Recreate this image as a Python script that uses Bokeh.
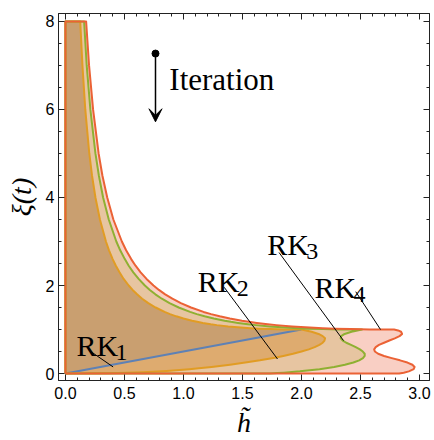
from bokeh.plotting import figure
from bokeh.models import (Range1d, LinearAxis, FixedTicker, Arrow, VeeHead,
                          CustomJSTickFormatter, NumeralTickFormatter, Label)
from bokeh.embed import file_html
from bokeh.resources import INLINE

# ---------------- data ----------------
# region corner on the xi axis (left edge / clipped top)
corner_h = [0, 0]
corner_xi = [0, 8]

# upper branches (xi >= 1) of the stability boundaries
xi_upper = [8, 7, 6, 5, 4.5, 4, 3.5, 3, 2.8, 2.6, 2.45, 2.3, 2.15, 2.0, 1.9, 1.8,
            1.7, 1.6, 1.5, 1.4, 1.35, 1.3, 1.25, 1.2, 1.175, 1.15, 1.12, 1.1, 1.07,
            1.05, 1.03, 1.02, 1.01, 1.003, 1.001, 1.0]
rk2_upper_h = [0.125, 0.144, 0.168, 0.202, 0.225, 0.254, 0.292, 0.343, 0.369, 0.400,
               0.427, 0.458, 0.493, 0.536, 0.569, 0.607, 0.650, 0.702, 0.764, 0.840,
               0.886, 0.939, 1.000, 1.073, 1.116, 1.164, 1.231, 1.283, 1.379, 1.460,
               1.566, 1.638, 1.736, 1.851, 1.913, 2.0]
rk3_upper_h = [0.158, 0.180, 0.211, 0.254, 0.283, 0.319, 0.367, 0.431, 0.464, 0.503,
               0.536, 0.575, 0.620, 0.673, 0.715, 0.762, 0.817, 0.882, 0.960, 1.056,
               1.113, 1.179, 1.257, 1.349, 1.402, 1.463, 1.547, 1.613, 1.732, 1.834,
               1.968, 2.058, 2.182, 2.326, 2.403, 2.513]
rk4_upper_h = [0.175, 0.200, 0.234, 0.281, 0.313, 0.354, 0.406, 0.478, 0.514, 0.557,
               0.594, 0.637, 0.687, 0.746, 0.792, 0.845, 0.906, 0.978, 1.064, 1.170,
               1.234, 1.307, 1.393, 1.495, 1.554, 1.621, 1.714, 1.787, 1.920, 2.032,
               2.181, 2.281, 2.418, 2.578, 2.663, 2.785]

# lower lobes (xi < 1)
rk2_lobe_xi = [0.98, 0.95, 0.9, 0.85, 0.8, 0.75, 0.7, 0.65, 0.6, 0.55, 0.5, 0.45, 0.4,
               0.36, 0.3, 0.26, 0.2, 0.15, 0.12, 0.1, 0.06, 0.03, 0.01, 0.005, 0]
rk2_lobe_h = [2.038, 2.086, 2.145, 2.18, 2.20, 2.195, 2.18, 2.152, 2.112, 2.062, 2.0,
              1.928, 1.846, 1.773, 1.648, 1.552, 1.394, 1.238, 1.13, 1.05, 0.858, 0.66,
              0.444, 0.348, 0]
rk3_lobe_xi = [0.98, 0.95, 0.9, 0.85, 0.8, 0.75, 0.7, 0.65, 0.6, 0.55, 0.5, 0.45, 0.4,
               0.35, 0.3, 0.25, 0.2, 0.15, 0.1, 0.05, 0.02, 0.01, 0]
rk3_lobe_h = [2.474, 2.424, 2.366, 2.337, 2.332, 2.35, 2.38, 2.42, 2.46, 2.495, 2.52,
              2.536, 2.536, 2.521, 2.489, 2.44, 2.368, 2.277, 2.153, 1.987, 1.852, 1.796,
              1.732]
rk4_lobe_xi = [0.98, 0.95, 0.9, 0.85, 0.8, 0.75, 0.7, 0.65, 0.6, 0.55, 0.5, 0.45, 0.4,
               0.35, 0.3, 0.25, 0.2, 0.15, 0.1, 0.05, 0.02, 0]
rk4_lobe_h = [2.819, 2.844, 2.853, 2.831, 2.791, 2.745, 2.70, 2.657, 2.629, 2.616, 2.622,
              2.65, 2.70, 2.765, 2.835, 2.898, 2.94, 2.959, 2.951, 2.91, 2.867, 2.828]

# RK1: straight lower boundary (blue line)
rk1_line_h = [0, 2.0]
rk1_line_xi = [0, 1.0]

labels = ["1", "2", "3", "4"]
label_h = [0.093, 1.12, 1.71, 2.11]
label_xi = [0.64, 2.10, 2.94, 1.96]
leader_h0 = [0.198, 1.345, 1.81, 2.46]
leader_xi0 = [0.53, 1.96, 2.75, 1.86]
leader_h1 = [0.404, 1.797, 2.356, 2.67]
leader_xi1 = [0.15, 0.33, 0.75, 1.0]

x_ticks = [0.0, 0.5, 1.0, 1.5, 2.0, 2.5, 3.0]
x_minor = [i / 10 for i in range(0, 31)]
y_ticks = [0, 2, 4, 6, 8]
y_minor = [i / 2 for i in range(0, 17)]

# ---------------- build region outlines ----------------
def region(upper_h, lobe_h, lobe_xi):
    hs = corner_h + upper_h + lobe_h
    xs = corner_xi + xi_upper + lobe_xi
    return hs, xs


rk4_h, rk4_xi = region(rk4_upper_h, rk4_lobe_h, rk4_lobe_xi)
rk3_h, rk3_xi = region(rk3_upper_h, rk3_lobe_h, rk3_lobe_xi)
rk2_h, rk2_xi = region(rk2_upper_h, rk2_lobe_h, rk2_lobe_xi)
rk1_h = rk1_line_h + rk2_upper_h[::-1] + corner_h[::-1][:1]
rk1_xi = rk1_line_xi + xi_upper[::-1] + corner_xi[::-1][:1]

# ---------------- styles ----------------
RED = "#eb6235"
GREEN = "#8fb032"
ORANGE = "#e19c24"
BLUE = "#5e81b5"
SERIF = "Liberation Serif"
SANS = "Liberation Sans"

p = figure(width=434, height=440, x_range=Range1d(-0.059, 3.085),
           y_range=Range1d(-0.158, 8.18), output_backend="svg",
           toolbar_location=None, min_border_left=58, min_border_right=5,
           min_border_top=13, min_border_bottom=58)
p.grid.visible = False
p.outline_line_color = "#222222"
p.background_fill_color = "white"
p.border_fill_color = "white"

# fills (opaque, drawn from outer to inner)
p.patch(rk4_h, rk4_xi, fill_color="#f9cfc4", line_color=None)
p.patch(rk3_h, rk3_xi, fill_color="#e7c5a1", line_color=None)
p.patch(rk2_h, rk2_xi, fill_color="#deab6f", line_color=None)
p.patch(rk1_h, rk1_xi, fill_color="#c99f70", line_color=None)

# outlines
p.line(rk1_line_h, rk1_line_xi, line_color=BLUE, line_width=2)
p.line(rk2_h + rk2_h[:1], rk2_xi + rk2_xi[:1], line_color=ORANGE, line_width=2, line_join="round")
p.line(rk3_h + rk3_h[:1], rk3_xi + rk3_xi[:1], line_color=GREEN, line_width=2, line_join="round")
p.line(rk4_h + rk4_h[:1], rk4_xi + rk4_xi[:1], line_color=RED, line_width=2, line_join="round")

# leader lines
p.segment(leader_h0, leader_xi0, leader_h1, leader_xi1, line_color="black", line_width=1)

# labels RK_n
for s, hx, yx in zip(labels, label_h, label_xi):
    p.add_layout(Label(x=hx, y=yx, text="RK", text_font=SERIF, text_font_size="30px",
                       text_baseline="alphabetic", text_align="left", text_color="black"))
    p.add_layout(Label(x=hx, y=yx, x_offset=39, y_offset=-7, text=s, text_font=SERIF,
                       text_font_size="24px", text_baseline="alphabetic",
                       text_align="left", text_color="black"))

# Iteration arrow
arrow_h = 0.763
arrow_start = 7.27
arrow_end = 5.72
p.add_layout(Arrow(x_start=arrow_h, y_start=arrow_start, x_end=arrow_h, y_end=arrow_end,
                   line_width=1.5, line_color="black",
                   end=VeeHead(size=13, fill_color="black", line_color="black")))
p.scatter([arrow_h], [arrow_start], size=7, color="black")
p.add_layout(Label(x=0.88, y=6.67, text="Iteration", text_font=SERIF,
                   text_font_size="31px", text_baseline="alphabetic", text_color="black"))

# axes
xt = FixedTicker(ticks=x_ticks, minor_ticks=x_minor)
yt = FixedTicker(ticks=y_ticks, minor_ticks=y_minor)


def style(ax):
    ax.major_tick_in = 6
    ax.major_tick_out = 0
    ax.minor_tick_in = 3
    ax.minor_tick_out = 0
    ax.axis_line_color = "#222222"
    ax.major_tick_line_color = "#222222"
    ax.minor_tick_line_color = "#222222"


bx = p.below[0]
bx.ticker = xt
bx.formatter = NumeralTickFormatter(format="0.0")
style(bx)
bx.major_label_text_font = SANS
bx.major_label_text_font_size = "16px"
bx.major_label_text_color = "black"
bx.major_label_standoff = 6
bx.axis_label = "h\u0303"
bx.axis_label_text_font = SERIF
bx.axis_label_text_font_style = "italic"
bx.axis_label_text_font_size = "28px"
bx.axis_label_text_color = "black"
bx.axis_label_standoff = 5

ly = p.left[0]
ly.ticker = yt
style(ly)
ly.major_label_text_font = SANS
ly.major_label_text_font_size = "16px"
ly.major_label_text_color = "black"
ly.major_label_standoff = 4
ly.axis_label = "\u03be(t)"
ly.axis_label_text_font = SERIF
ly.axis_label_text_font_style = "italic"
ly.axis_label_text_font_size = "28px"
ly.axis_label_text_color = "black"
ly.axis_label_standoff = 6

empty = CustomJSTickFormatter(code="return ''")
top = LinearAxis(ticker=xt, formatter=empty, major_label_text_font_size="0px",
                 major_label_standoff=0)
style(top)
p.add_layout(top, "above")
right = LinearAxis(ticker=yt, formatter=empty, major_label_text_font_size="0px",
                   major_label_standoff=0)
style(right)
p.add_layout(right, "right")

open("out.html", "w").write(file_html(p, INLINE))
